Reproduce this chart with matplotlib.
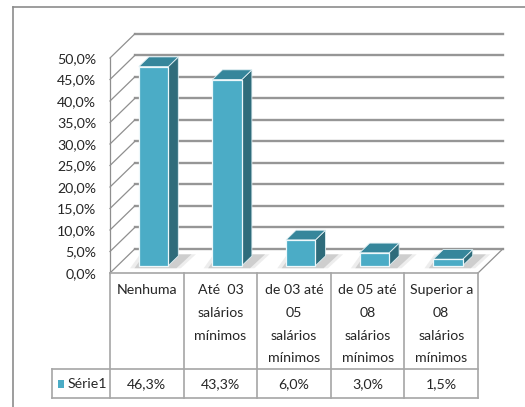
import numpy as np
import matplotlib
matplotlib.use('Agg')
import matplotlib.pyplot as plt
from matplotlib.patches import Polygon
from matplotlib.transforms import blended_transform_factory

plt.rcParams['font.family'] = ['Lato', 'DejaVu Sans']

# dados
categorias = ['Nenhuma', 'Até  03\nsalários\nmínimos', 'de 03 até\n05\nsalários\nmínimos',
              'de 05 até\n08\nsalários\nmínimos', 'Superior a\n08\nsalários\nmínimos']
valores = [46.3, 43.3, 6.0, 3.0, 1.5]
serie = 'Série1'
yticks = [0, 5, 10, 15, 20, 25, 30, 35, 40, 45, 50]


def pct(v):
    return f'{v:.1f}%'.replace('.', ',')


W, H = 525, 407
FS = 10.2
txt_c = '#262626'
fig = plt.figure(figsize=(W / 100, H / 100), dpi=100)
fig.patch.set_facecolor('white')

# eixo auxiliar em pixels para moldura e tabela
ov = fig.add_axes([0, 0, 1, 1])
ov.set_xlim(0, W)
ov.set_ylim(H, 0)
ov.axis('off')

ax = fig.add_axes([110 / W, (H - 273) / H, 368 / W, 215 / H])
ax.set_zorder(2)
ax.set_xlim(0, len(valores))
ax.set_ylim(0, 50)
ax.patch.set_visible(False)
for s in ax.spines.values():
    s.set_visible(False)
ax.set_xticks([])
ax.set_yticks(yticks)
ax.set_yticklabels([pct(t) for t in yticks], fontsize=FS, color=txt_c)
ax.tick_params(axis='y', length=0, pad=10)

# moldura externa
ov.plot([13, W], [7, 7], color='#8c8c8c', lw=1.2)
ov.plot([13, 13], [7, H], color='#8c8c8c', lw=1.2)

# profundidade 3D
DX = 0.34
DY = 5.65
n = len(valores)
grid_c = '#969696'

for t in yticks:
    ax.plot([DX, n + DX], [t + DY, t + DY], color=grid_c, lw=1.7, clip_on=False, zorder=1)
    ax.plot([0, DX], [t, t + DY], color='#8f8f8f', lw=0.9, clip_on=False, zorder=1)
ax.plot([0, 0], [0, 50], color='#8f8f8f', lw=0.9, clip_on=False, zorder=1)
ax.plot([n, n + DX], [0, DY], color='#8f8f8f', lw=0.9, clip_on=False, zorder=1)

# barras
f0, f1 = 0.3, 0.7
bw = 0.40
front_c, top_c, side_c = '#4bacc6', '#36869b', '#2f6c7b'
for i, v in enumerate(valores):
    x0 = i + 0.29 + f0 * DX
    x1 = x0 + bw
    y0 = f0 * DY
    y1 = y0 + v
    ddx = (f1 - f0) * DX
    ddy = (f1 - f0) * DY
    # sombra
    for k, a in [(0.12, 0.10), (0.06, 0.20)]:
        sh = Polygon([(x0 - k, y0 - 0.6), (x1 + k + 0.05, y0 - 0.6),
                      (x1 + ddx + k + 0.12, y0 + ddy + 0.4), (x0 + ddx - k, y0 + ddy + 0.4)],
                     closed=True, facecolor='#555555', alpha=a, edgecolor='none',
                     clip_on=False, zorder=2)
        ax.add_patch(sh)
    ax.add_patch(Polygon([(x1, y0), (x1 + ddx, y0 + ddy), (x1 + ddx, y1 + ddy), (x1, y1)],
                         closed=True, facecolor=side_c, edgecolor='#dfeff3', lw=0.6,
                         clip_on=False, zorder=3))
    ax.add_patch(Polygon([(x0, y1), (x1, y1), (x1 + ddx, y1 + ddy), (x0 + ddx, y1 + ddy)],
                         closed=True, facecolor=top_c, edgecolor='#dfeff3', lw=0.6,
                         clip_on=False, zorder=3))
    ax.add_patch(Polygon([(x0, y0), (x1, y0), (x1, y1), (x0, y1)],
                         closed=True, facecolor=front_c, edgecolor='#eef8fb', lw=0.9,
                         clip_on=False, zorder=4))

# tabela de dados
tr = blended_transform_factory(ax.transData, ov.transData)
tab_c = '#a6a6a6'
y_top, y_mid, y_bot = 273, 369, 398
xl = -0.79
ax.plot([0, n], [y_top, y_top], color=tab_c, lw=1.2, transform=tr, clip_on=False)
ax.plot([xl, n], [y_mid, y_mid], color=tab_c, lw=1.2, transform=tr, clip_on=False)
ax.plot([xl, n], [y_bot, y_bot], color=tab_c, lw=1.2, transform=tr, clip_on=False)
ax.plot([xl, xl], [y_mid, y_bot], color=tab_c, lw=1.2, transform=tr, clip_on=False)
for i in range(n + 1):
    ax.plot([i, i], [y_top, y_bot], color=tab_c, lw=1.2, transform=tr, clip_on=False)

for i, (c, v) in enumerate(zip(categorias, valores)):
    ax.text(i + 0.5, 284.5, c, transform=tr, ha='center', va='top', fontsize=FS,
            color=txt_c, linespacing=2.05, multialignment='center', clip_on=False)
    ax.text(i + 0.5, 384, pct(v), transform=tr, ha='center', va='center', fontsize=FS,
            color=txt_c, clip_on=False)

ax.add_patch(Polygon([(-0.71, 380), (-0.62, 380), (-0.62, 388), (-0.71, 388)], closed=True,
                     facecolor=front_c, edgecolor='none', transform=tr, clip_on=False))
ax.text(-0.58, 384, serie, transform=tr, ha='left', va='center', fontsize=FS,
        color=txt_c, clip_on=False)

fig.savefig('out.png', dpi=100)
